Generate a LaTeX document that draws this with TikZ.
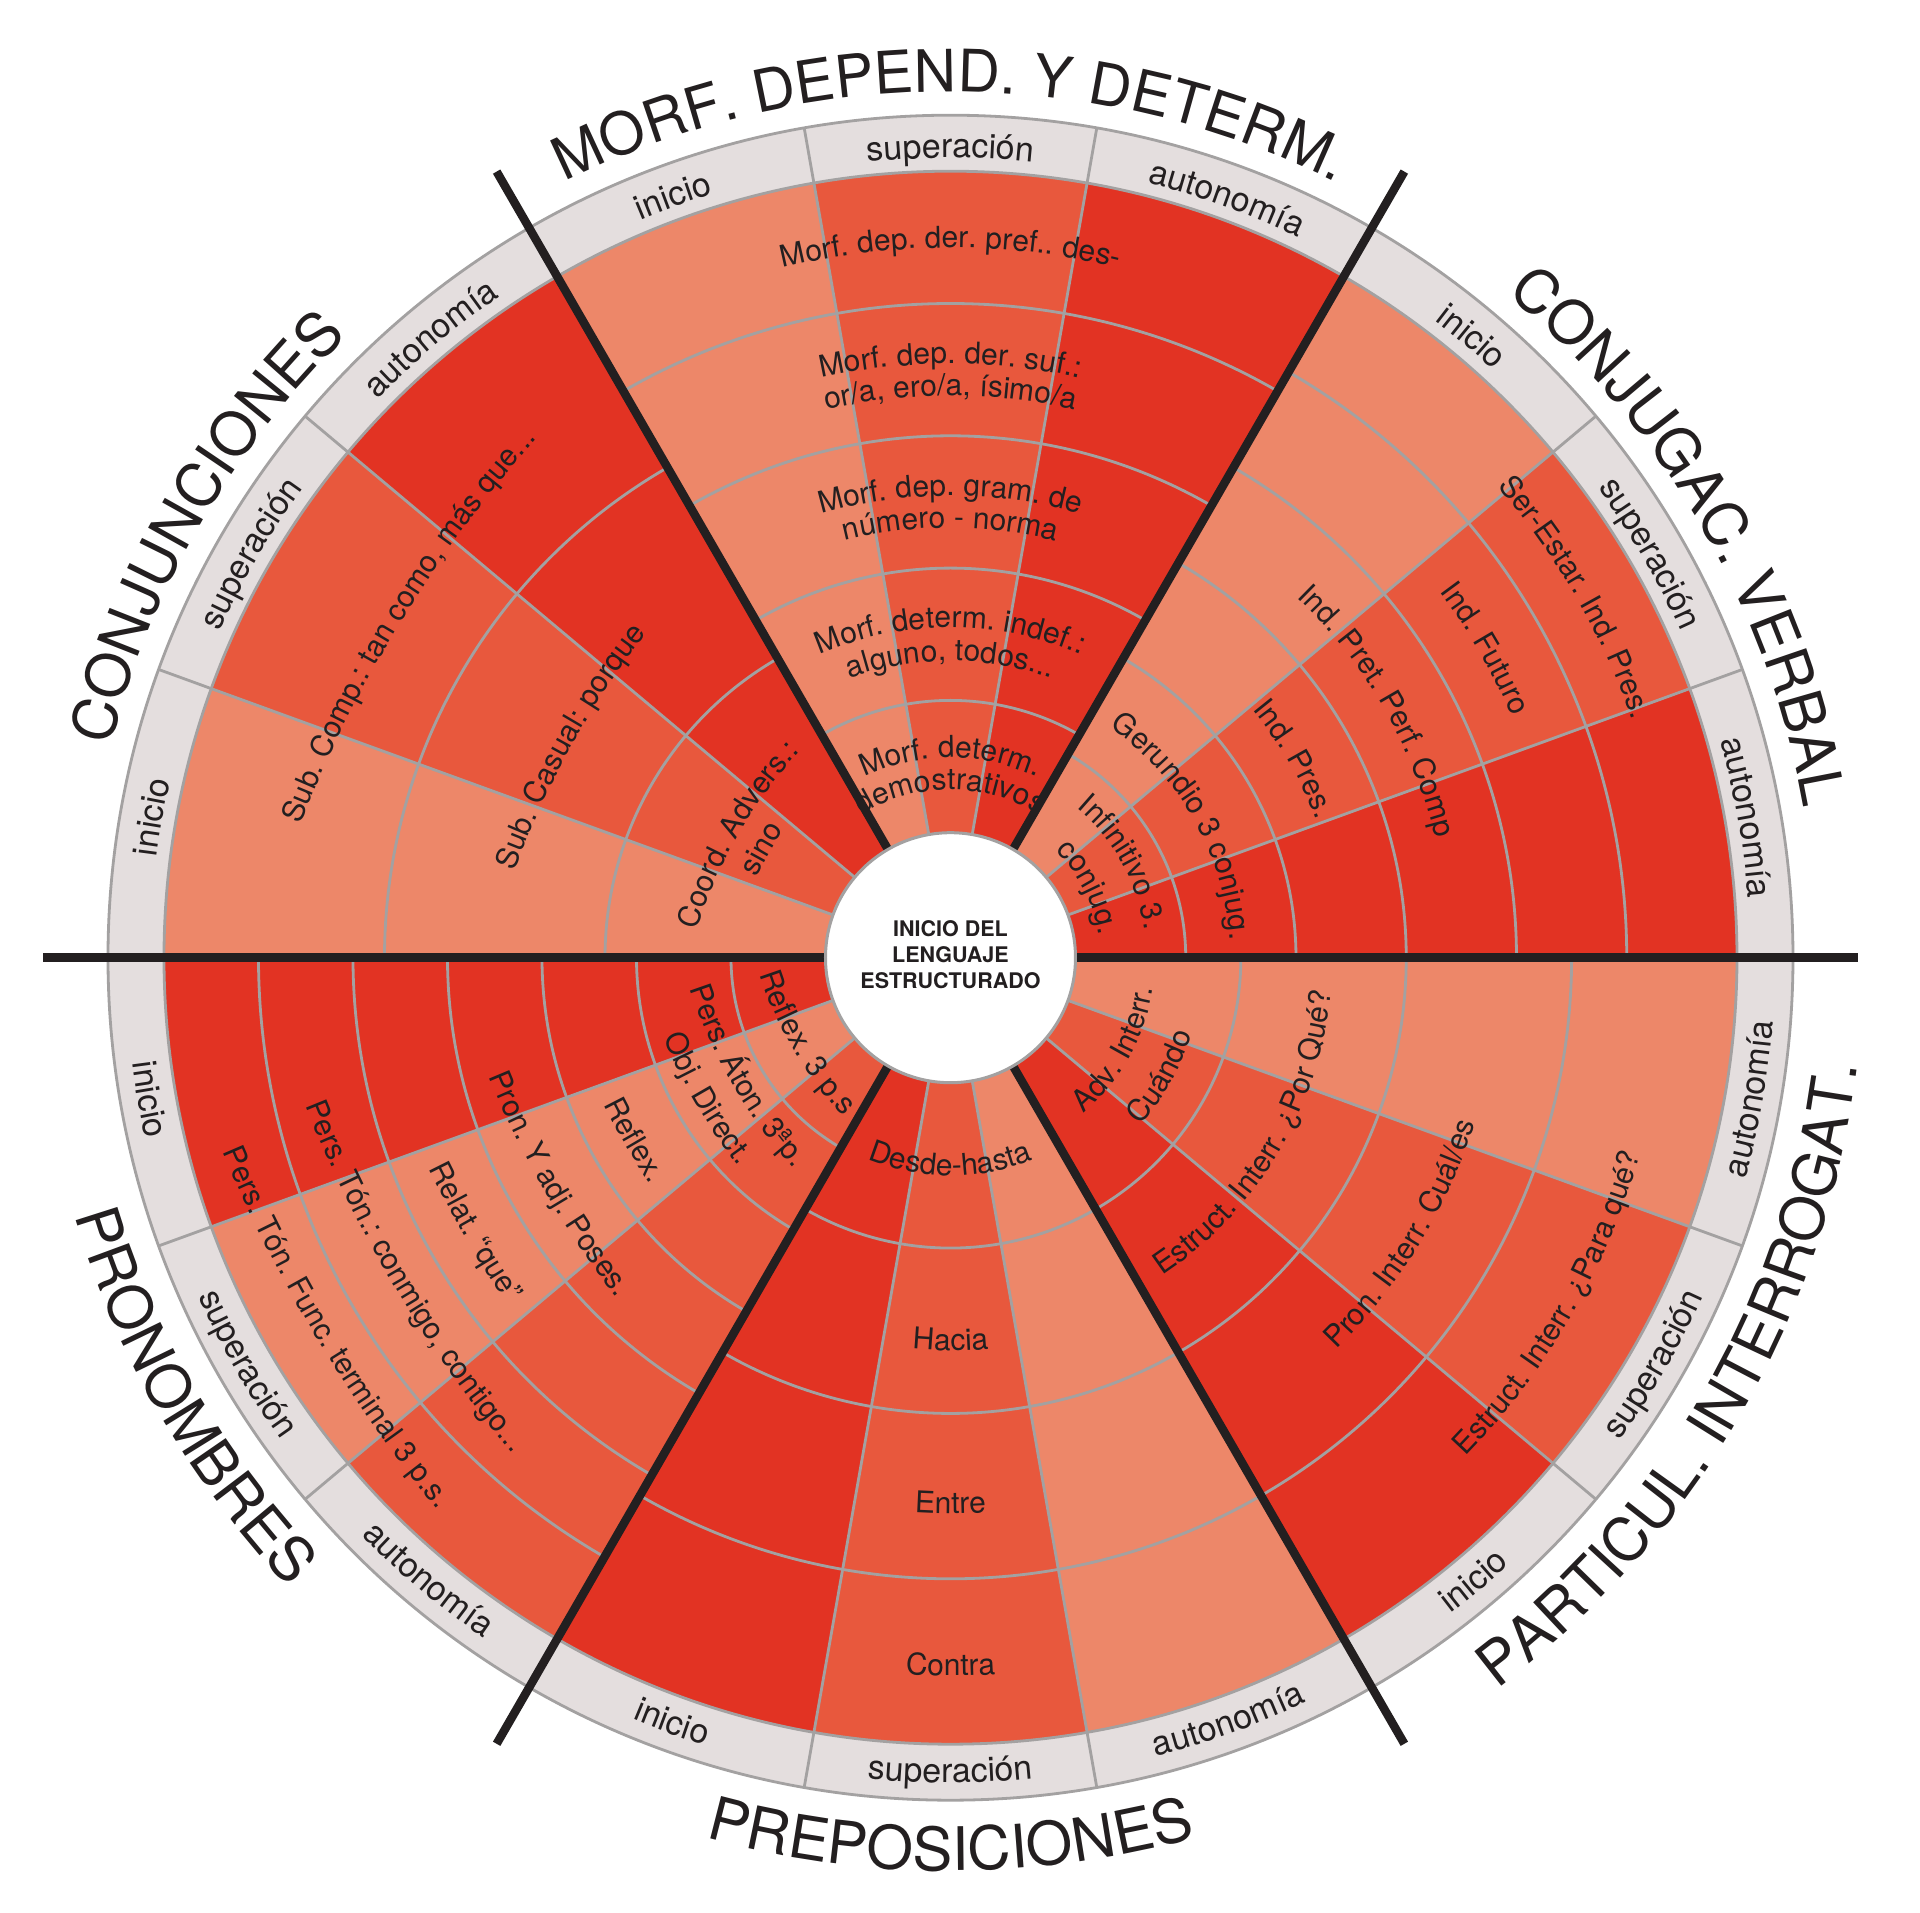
\documentclass[tikz,border=0pt]{standalone}
\usepackage{fontspec}
\setmainfont{TeX Gyre Heros}
\usetikzlibrary{decorations.text}
\definecolor{cL}{RGB}{237,135,105}
\definecolor{cM}{RGB}{232,88,61}
\definecolor{cD}{RGB}{226,51,35}
\definecolor{ringgray}{RGB}{228,222,222}
\definecolor{linegray}{RGB}{163,161,161}
\definecolor{ink}{RGB}{35,31,32}
\newcommand\cellfont{\fontsize{30}{30}\selectfont}
\newcommand\ringfont{\fontsize{34}{34}\selectfont}
\newcommand\titlefont{\fontsize{60}{60}\selectfont}
\newcommand\morftitlefont{\fontsize{58.5}{58.5}\selectfont}
% #1 dir (1 top, -1 bottom), #2 centre angle, #3 baseline radius, #4 curvature, #5 font, #6 text
\newcommand\arclabel[6]{%
  \pgfmathsetmacro\alR{#3/#4}%
  \pgfmathsetmacro\alOff{#3-\alR}%
  \pgfmathsetmacro\alD{40*#4}%
  \pgfmathsetmacro\alS{#2+#1*\alD}%
  \pgfmathsetmacro\alE{#2-#1*\alD}%
  \path[shift={(#2:\alOff pt)}, decorate,
        decoration={text along path, text align=center, text color=ink, text={|#5|#6}}]
    (\alS:\alR pt) arc[start angle=\alS, end angle=\alE, radius=\alR pt];%
}
\tikzset{
  gridline/.style={draw=linegray, line width=2.8pt},
  sectorline/.style={draw=ink, line width=8.5pt}
}
\begin{document}
\begin{tikzpicture}
\useasboundingbox (-950.5pt,-955.3pt) rectangle (969.5pt,957.7pt);
\fill[white] (-950.5pt,-955.3pt) rectangle (969.5pt,957.7pt);
% coloured columns
\foreach \a/\b/\c in {0/20/cD,20/40/cM,40/60/cL,60/80/cD,80/100/cM,100/120/cL,
  120/140/cD,140/160/cM,160/180/cL,180/200/cD,200/220/cL,220/240/cM,
  240/260/cD,260/280/cM,280/300/cL,300/320/cD,320/340/cM,340/360/cL}{
  \fill[\c] (\a:125pt) arc[start angle=\a, end angle=\b, radius=125pt]
    -- (\b:786.5pt) arc[start angle=\b, end angle=\a, radius=786.5pt] -- cycle;
}
% outer grey ring
\fill[ringgray,even odd rule] (0,0) circle[radius=842.5pt] (0,0) circle[radius=786.5pt];
% level arcs
\foreach \s/\n in {0/6,60/5,120/3,180/7,240/4,300/4}{
  \pgfmathsetmacro\arcStep{661.5/\n}
  \pgfmathtruncatemacro\arcM{\n-1}
  \pgfmathsetmacro\arcEnd{\s+60}
  \foreach \i in {1,...,\arcM}{
    \pgfmathsetmacro\arcRad{125+\i*\arcStep}
    \draw[gridline] (\s:\arcRad pt) arc[start angle=\s, end angle=\arcEnd, radius=\arcRad pt];
  }
}
% radial lines
\foreach \a in {0,20,...,340} \draw[gridline] (\a:125pt) -- (\a:842.5pt);
\draw[gridline] (0,0) circle[radius=786.5pt];
\draw[gridline] (0,0) circle[radius=842.5pt];
% sector separators
\foreach \a in {0,60,...,300} \draw[sectorline] (\a:125pt) -- (\a:907.7pt);
% hub
\node[circle, fill=white, draw=linegray, line width=3pt, minimum size=250pt, inner sep=0pt] (hubdisc) at (0,0) {};
\node[align=center, font=\bfseries\fontsize{21.5}{26}\selectfont, text=ink] (hub) at (0,3pt) {INICIO DEL\\LENGUAJE\\ESTRUCTURADO};
% ring labels
\arclabel{1}{10}{800}{1}{\ringfont}{autonomía}
\arclabel{1}{30}{800}{1}{\ringfont}{superación}
\arclabel{1}{50}{800}{1}{\ringfont}{inicio}
\arclabel{1}{70}{800}{1}{\ringfont}{autonomía}
\arclabel{1}{90}{800}{1}{\ringfont}{superación}
\arclabel{1}{110}{800}{1}{\ringfont}{inicio}
\arclabel{1}{130}{800}{1}{\ringfont}{autonomía}
\arclabel{1}{150}{800}{1}{\ringfont}{superación}
\arclabel{1}{170}{800}{1}{\ringfont}{inicio}
\arclabel{-1}{190}{825}{1}{\ringfont}{inicio}
\arclabel{-1}{210}{825}{1}{\ringfont}{superación}
\arclabel{-1}{230}{825}{1}{\ringfont}{autonomía}
\arclabel{-1}{250}{825}{1}{\ringfont}{inicio}
\arclabel{-1}{270}{825}{1}{\ringfont}{superación}
\arclabel{-1}{290}{825}{1}{\ringfont}{autonomía}
\arclabel{-1}{310}{825}{1}{\ringfont}{inicio}
\arclabel{-1}{330}{825}{1}{\ringfont}{superación}
\arclabel{-1}{350}{825}{1}{\ringfont}{autonomía}
% titles
\arclabel{1}{90}{866}{1}{\morftitlefont}{MORF. DEPEND. Y DETERM.}
\arclabel{1}{30}{866}{1}{\titlefont}{CONJUGAC. VERBAL}
\arclabel{1}{150}{866}{1}{\titlefont}{CONJUNCIONES}
\arclabel{-1}{210}{913}{1}{\titlefont}{PRONOMBRES}
\arclabel{-1}{270}{913}{1}{\titlefont}{PREPOSICIONES}
\arclabel{-1}{330}{913}{1}{\titlefont}{PARTICUL. INTERROGAT.}
% MORF
\arclabel{1}{90}{710}{1}{\cellfont}{Morf. dep. der. pref.. des-}
\arclabel{1}{90}{594}{1}{\cellfont}{Morf. dep. der. suf.:}
\arclabel{1}{90}{562}{1}{\cellfont}{or/a, ero/a, ísimo/a}
\arclabel{1}{90}{462}{1}{\cellfont}{Morf. dep. gram. de}
\arclabel{1}{90}{430}{1}{\cellfont}{número - norma}
\arclabel{1}{90}{330}{1}{\cellfont}{Morf. determ. indef.:}
\arclabel{1}{90}{297}{1}{\cellfont}{alguno, todos...}
\arclabel{1}{90}{200}{1}{\cellfont}{Morf. determ.}
\arclabel{1}{90}{168}{1}{\cellfont}{demostrativos}
% CONJUGAC
\arclabel{1}{29}{196}{1}{\cellfont}{Infinitivo 3.}
\arclabel{1}{27}{150}{1}{\cellfont}{conjug.}
\arclabel{1}{29.5}{280}{1}{\cellfont}{Gerundio 3 conjug.}
\arclabel{1}{30}{391}{1}{\cellfont}{Ind. Pres.}
\arclabel{1}{30}{500}{1}{\cellfont}{Ind. Pret. Perf. Comp}
\arclabel{1}{30}{611}{1}{\cellfont}{Ind. Futuro}
\arclabel{1}{30}{722}{1}{\cellfont}{Ser-Estar. Ind. Pres.}
% CONJUNCIONES
\arclabel{1}{150}{245}{0.5}{\cellfont}{Coord. Advers.:}
\arclabel{1}{150}{209}{0.5}{\cellfont}{sino}
\arclabel{1}{151}{434}{0.5}{\cellfont}{Sub. Casual: porque}
\arclabel{1}{148.5}{644}{0.5}{\cellfont}{Sub. Comp.: tan como, más que...}
% PRONOMBRES
\arclabel{-1}{210.5}{182}{0.5}{\cellfont}{Reflex. 3 p.s}
\arclabel{-1}{210}{252}{0.5}{\cellfont}{Pers. Áton. 3ªp.}
\arclabel{-1}{210}{293}{0.5}{\cellfont}{Obj. Direct.}
\arclabel{-1}{210}{375}{0.5}{\cellfont}{Reflex.}
\arclabel{-1}{210}{468}{0.5}{\cellfont}{Pron. Y adj. Poses.}
\arclabel{-1}{210}{560}{0.5}{\cellfont}{Relat. “que”}
\arclabel{-1}{210.7}{646}{0.5}{\cellfont}{Pers. Tón.: conmigo, contigo...}
\arclabel{-1}{211}{739}{0.5}{\cellfont}{Pers. Tón. Func. terminal 3 p.s.}
% PREPOSICIONES
\arclabel{-1}{270}{218}{1}{\cellfont}{Desde-hasta}
\arclabel{-1}{270}{393}{1}{\cellfont}{Hacia}
\arclabel{-1}{270}{556}{1}{\cellfont}{Entre}
\arclabel{-1}{270}{718}{1}{\cellfont}{Contra}
% PARTICUL
\arclabel{-1}{331}{205}{1}{\cellfont}{Adv. Interr.}
\arclabel{-1}{330.5}{253}{1}{\cellfont}{Cuándo}
\arclabel{-1}{329.3}{382}{1}{\cellfont}{Estruct. Interr. ¿Por Qué?}
\arclabel{-1}{328.5}{550}{1}{\cellfont}{Pron. Interr. Cuál/es}
\arclabel{-1}{330}{717}{1}{\cellfont}{Estruct. Interr. ¿Para qué?}
\end{tikzpicture}
\end{document}
